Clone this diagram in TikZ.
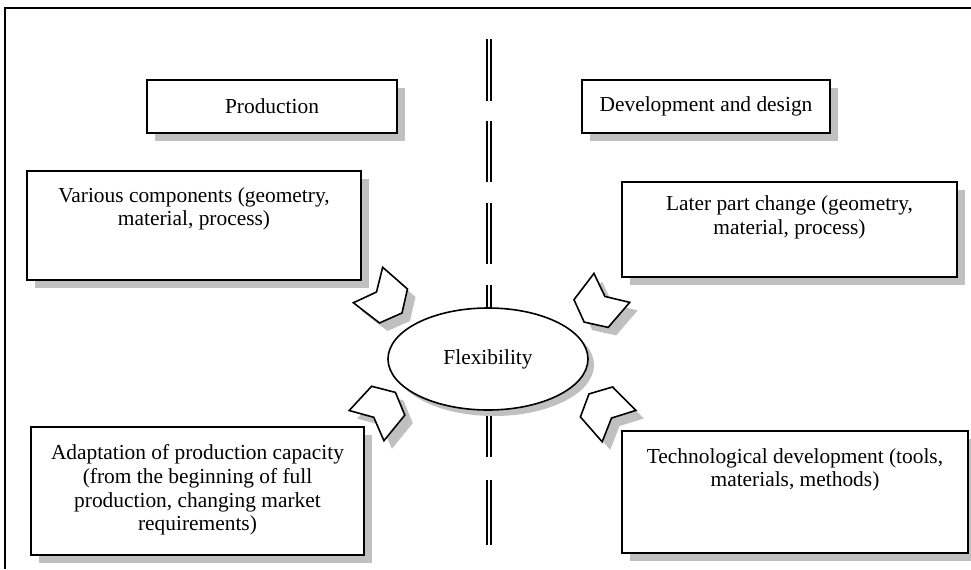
\documentclass[tikz,border=0pt]{standalone}
\usepackage{fontspec}
\setmainfont{Liberation Serif}
\usetikzlibrary{positioning,shapes.geometric,shadows}
\definecolor{shadowgray}{RGB}{192,192,192}
% chevron arrow: centre, angle of the tip
\newcommand{\chevron}[2]{%
  \fill[shadowgray, shift={(#1)}, xshift=4pt, yshift=-4pt, rotate=#2]
    (-22,-23) -- (-11,0) -- (-22,23) -- (11,22) -- (22,0) -- (11,-22) -- cycle;
  \filldraw[chevfill, shift={(#1)}, rotate=#2]
    (-22,-23) -- (-11,0) -- (-22,23) -- (11,22) -- (22,0) -- (11,-22) -- cycle;}
\begin{document}
\begin{tikzpicture}[x=0.5pt,y=-0.5pt,
    every node/.style={font=\fontsize{10.7}{11.8}\selectfont},
    box/.style={draw, fill=white, line width=0.9pt, inner sep=0pt,
      drop shadow={shadow xshift=4pt, shadow yshift=-4pt, fill=shadowgray, opacity=1}},
    txt/.style={align=center, inner sep=0pt},
    flex/.style={ellipse, draw, fill=white, line width=0.8pt, inner sep=0pt,
      minimum width=100pt, minimum height=51pt,
      drop shadow={shadow xshift=3pt, shadow yshift=-3pt, fill=shadowgray, opacity=1}},
    chevfill/.style={fill=white, draw, line width=0.8pt},
    divider/.style={double, line width=0.7pt, double distance=1.3pt}]
  \useasboundingbox (0,0) rectangle (971,569);
  \draw[line width=0.9pt] (5,569) -- (5,8) -- (971,8);

  % dividing line
  \foreach \a/\b in {39/101, 121/182, 203/264, 285/350, 370/457, 480/545}
    \draw[divider] (489,\a) -- (489,\b);

  \chevron{385,299}{-39.5}
  \chevron{381,409}{49}
  \chevron{598,305}{-129}
  \chevron{604,410}{133}

  \node[box, minimum width=125pt, minimum height=26.5pt] (prod) at (272,106.5) {Production};
  \node[box, minimum width=124pt, minimum height=26.5pt] (dev) at (706,106.5) {Development and design};

  \node[box, minimum width=167pt, minimum height=54.5pt] (various) at (194,225.5) {};
  \node[txt, below=8.5pt of various.north] (varioustxt) {Various components (geometry,\\ material, process)};
  \node[box, minimum width=167.5pt, minimum height=47.5pt] (later) at (789.5,229.5) {};
  \node[txt, below=7.2pt of later.north] (latertxt) {Later part change (geometry,\\ material, process)};

  \node[box, minimum width=166.5pt, minimum height=64pt] (adapt) at (197.5,491) {};
  \node[txt, below=9.2pt of adapt.north] (adapttxt) {Adaptation of production capacity\\ (from the beginning of full\\ production, changing market\\ requirements)};
  \node[box, minimum width=173pt, minimum height=61pt] (tech) at (795,492) {};
  \node[txt, below=9pt of tech.north] (techtxt) {Technological development (tools,\\ materials, methods)};

  \node[flex] (flexy) at (488,359) {Flexibility};
\end{tikzpicture}
\end{document}
